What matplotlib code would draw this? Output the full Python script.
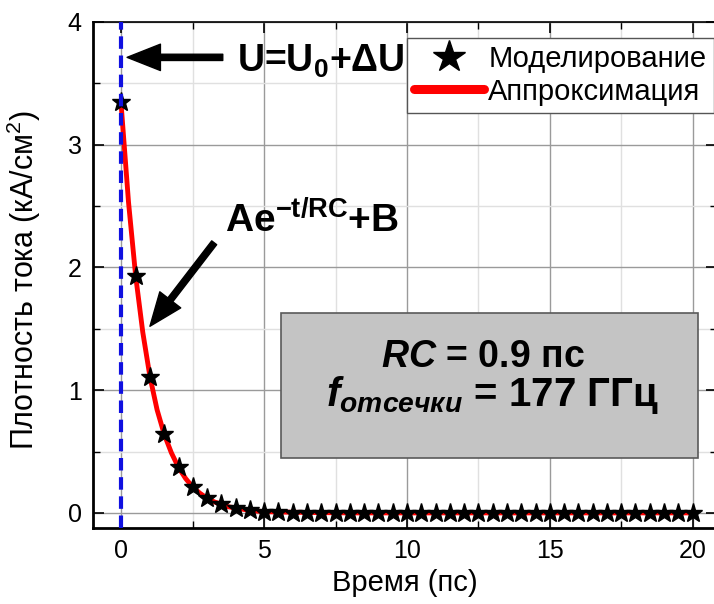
import matplotlib
matplotlib.use("Agg")
import matplotlib.pyplot as plt
from matplotlib.lines import Line2D
from matplotlib.patches import Rectangle

plt.rcParams['font.family'] = ['Liberation Sans', 'DejaVu Sans']
plt.rcParams['mathtext.fontset'] = 'custom'
plt.rcParams['mathtext.rm'] = 'Liberation Sans'
plt.rcParams['mathtext.bf'] = 'Liberation Sans:bold'
plt.rcParams['mathtext.it'] = 'Liberation Sans:italic'
plt.rcParams['mathtext.bfit'] = 'Liberation Sans:italic:bold'

# моделирование (звёздочки)
t_sim = [0, 0.5, 1, 1.5, 2, 2.5, 3, 3.5, 4, 4.5, 5, 5.5, 6, 6.5, 7, 7.5, 8, 8.5,
         9, 9.5, 10, 10.5, 11, 11.5, 12, 12.5, 13, 13.5, 14, 14.5, 15, 15.5,
         16, 16.5, 17, 17.5, 18, 18.5, 19, 19.5, 20]
j_sim = [3.35, 1.93, 1.11, 0.64, 0.37, 0.21, 0.12, 0.07, 0.04, 0.02, 0.01, 0.01,
         0.0, 0.0, 0.0, 0.0, 0.0, 0.0, 0.0, 0.0, 0.0, 0.0, 0.0, 0.0, 0.0, 0.0,
         0.0, 0.0, 0.0, 0.0, 0.0, 0.0, 0.0, 0.0, 0.0, 0.0, 0.0, 0.0, 0.0, 0.0, 0.0]

# аппроксимация (красная линия)
t_fit = [0, 0.25, 0.5, 0.75, 1, 1.25, 1.5, 1.75, 2, 2.25, 2.5, 2.75, 3, 3.25,
         3.5, 3.75, 4, 4.5, 5, 6, 8, 20]
j_fit = [3.3, 2.53, 1.93, 1.47, 1.11, 0.84, 0.64, 0.49, 0.37, 0.28, 0.21, 0.16,
         0.12, 0.09, 0.07, 0.05, 0.04, 0.02, 0.01, 0.005, 0.0, 0.0]

fig = plt.figure(figsize=(7.14, 6.04), dpi=100)
ax = fig.add_axes([0.130, 0.126, 0.874, 0.838])

ax.set_xlim(-1, 20.85)
ax.set_ylim(-0.122, 4)
ax.set_xticks([0, 5, 10, 15, 20])
ax.set_xticks([2.5, 7.5, 12.5, 17.5], minor=True)
ax.set_yticks([0, 1, 2, 3, 4])
ax.set_yticks([0.5, 1.5, 2.5, 3.5], minor=True)
ax.grid(which='major', color='#9a9a9a', lw=1)
ax.grid(which='minor', color='#e0e0e0', lw=1)
ax.set_axisbelow(True)
ax.tick_params(which='both', direction='in', top=True, right=True, labelsize=18, pad=8)
ax.tick_params(which='major', length=8, width=1.2)
ax.tick_params(which='minor', length=5, width=1)
for s in ax.spines.values():
    s.set_linewidth(1.2)
ax.spines['left'].set_linewidth(2)
ax.spines['bottom'].set_linewidth(2)

ax.plot(t_fit, j_fit, color='red', lw=3.5, zorder=3)
ax.plot(t_sim, j_sim, ls='none', marker='*', ms=14, color='black', zorder=4)
ax.axvline(0, color='#1010e0', lw=3, ls=(0, (3, 1.6)), zorder=5)

ax.set_xlabel('Время (пс)', fontsize=21, labelpad=4)
ax.set_ylabel('Плотность тока (кА/см$^2$)', fontsize=22)
ax.yaxis.set_label_coords(-0.08, 0.49)

# стрелки и подписи
ax.annotate('', xy=(0.2, 3.71), xytext=(3.55, 3.71),
            arrowprops=dict(width=4.5, headwidth=19, headlength=24, color='black'))
ax.text(4.05, 3.59, r'U=U$_\mathbf{0}$+ΔU', fontsize=27, fontweight='bold', va='baseline')
ax.annotate('', xy=(1.0, 1.52), xytext=(3.25, 2.2),
            arrowprops=dict(width=4.5, headwidth=19, headlength=24, color='black'))
ax.text(3.62, 2.28, r'Ae$^{\mathbf{-t/RC}}$+B', fontsize=28, fontweight='bold', va='baseline')

# серая вставка
ax.add_patch(Rectangle((5.6, 0.45), 14.6, 1.18, facecolor='#c4c4c4',
                       edgecolor='#5a5a5a', lw=1.2, zorder=6))
ax.text(12.65, 1.19, r'$\mathbfit{RC}$ = 0.9 пс', fontsize=27, fontweight='bold',
        ha='center', va='baseline', zorder=7)
ax.text(13.0, 0.87, r'$\mathbfit{f}_{\mathbfit{отсечки}}$ = 177 ГГц', fontsize=29,
        fontweight='bold', ha='center', va='baseline', zorder=7)

handles = [Line2D([], [], ls='none', marker='*', ms=24, color='black'),
           Line2D([], [], color='red', lw=6.5, solid_capstyle='round')]
leg = ax.legend(handles, ['Моделирование', 'Аппроксимация'], loc='upper right',
                bbox_to_anchor=(0.995, 0.968), fontsize=21, frameon=True,
                fancybox=False, framealpha=1, edgecolor='#555555',
                handlelength=2.4, handletextpad=0.15, borderpad=0.25,
                labelspacing=0.15, borderaxespad=0)
leg.get_frame().set_linewidth(1)

fig.savefig('out.png', dpi=100)
